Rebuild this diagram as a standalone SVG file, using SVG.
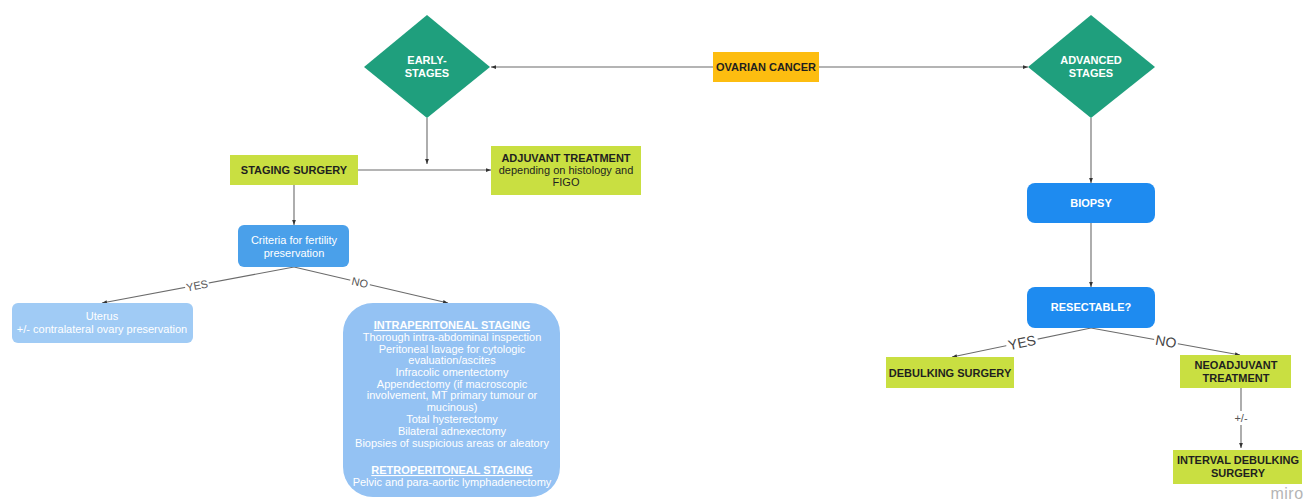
<svg xmlns="http://www.w3.org/2000/svg" width="1306" height="502" viewBox="0 0 1306 502">
<style>
text{font-family:"Liberation Sans",Arial,sans-serif;text-anchor:middle}
.t{font-size:11px;font-weight:bold;fill:#1f1f1f}
.w{font-size:11px;font-weight:bold;fill:#fff}
.r{font-size:11px;fill:#1f1f1f}
.rw{font-size:11px;fill:#fff}
.big{font-size:11px;fill:#fff}
.lbl{font-size:11px;fill:#555}
.lbl2{font-size:14px;fill:#444}
.c{fill:none;stroke:#6b6b6b;stroke-width:1.1}
.lime{fill:#c9df41}
.teal{fill:#1f9f7d}
</style>
<defs>
<marker id="ah" viewBox="0 0 8 6" refX="8" refY="3" markerWidth="5" markerHeight="4" markerUnits="userSpaceOnUse" orient="auto">
<path d="M0,0L8,3L0,6z" fill="#333"/>
</marker>
</defs>
<rect width="1306" height="502" fill="#fff"/>
<g id="connectors">
<path class="c" d="M713,67H491" marker-end="url(#ah)"/>
<path class="c" d="M819,67H1028" marker-end="url(#ah)"/>
<path class="c" d="M427,118V164" marker-end="url(#ah)"/>
<path class="c" d="M358,170H491" marker-end="url(#ah)"/>
<path class="c" d="M294,185V225" marker-end="url(#ah)"/>
<path class="c" d="M294,267L102,303" marker-end="url(#ah)"/>
<path class="c" d="M294,267L448,303" marker-end="url(#ah)"/>
<path class="c" d="M1091,118V183" marker-end="url(#ah)"/>
<path class="c" d="M1091,223V287" marker-end="url(#ah)"/>
<path class="c" d="M1091,328L952,357" marker-end="url(#ah)"/>
<path class="c" d="M1091,328L1240,355" marker-end="url(#ah)"/>
<path class="c" d="M1241,388V448" marker-end="url(#ah)"/>
<g transform="translate(197,285.5) rotate(-10.6)"><rect x="-12" y="-7" width="24" height="13" fill="#fff"/><text class="lbl" y="4">YES</text></g>
<g transform="translate(360,282.5) rotate(13.2)"><rect x="-10" y="-7" width="20" height="13" fill="#fff"/><text class="lbl" y="4">NO</text></g>
<g transform="translate(1022,342.5) rotate(-11.8)"><rect x="-16" y="-8" width="32" height="16" fill="#fff"/><text class="lbl2" y="5">YES</text></g>
<g transform="translate(1166,341.5) rotate(10.3)"><rect x="-12" y="-8" width="24" height="16" fill="#fff"/><text class="lbl2" y="5">NO</text></g>
<rect x="1230" y="411" width="22" height="14" fill="#fff"/><text class="lbl" x="1241" y="422">+/-</text>
</g>
<g id="ovarian-cancer">
<rect x="713" y="52" width="106" height="30" fill="#fdbd10"/>
<text class="t" x="766" y="71">OVARIAN CANCER</text>
</g>
<g id="early-stages">
<path class="teal" d="M427,15L490,67L427,118L364,67z"/>
<text class="w" x="427" y="64">EARLY-</text>
<text class="w" x="427" y="77">STAGES</text>
</g>
<g id="advanced-stages">
<path class="teal" d="M1091,15L1155,67L1091,118L1028,67z"/>
<text class="w" x="1091" y="64">ADVANCED</text>
<text class="w" x="1091" y="77">STAGES</text>
</g>
<g id="staging-surgery">
<rect class="lime" x="230" y="155" width="128" height="30"/>
<text class="t" x="294" y="174">STAGING SURGERY</text>
</g>
<g id="adjuvant-treatment">
<rect class="lime" x="491" y="146" width="150" height="49"/>
<text class="t" x="566" y="162">ADJUVANT TREATMENT</text>
<text class="r" x="566" y="174">depending on histology and</text>
<text class="r" x="566" y="186">FIGO</text>
</g>
<g id="criteria">
<rect x="238" y="225" width="111" height="42" rx="6" fill="#4aa0ea"/>
<text class="rw" x="294" y="244">Criteria for fertility</text>
<text class="rw" x="294" y="257">preservation</text>
</g>
<g id="uterus">
<rect x="12" y="303" width="181" height="40" rx="6" fill="#a0cbf5"/>
<text class="rw" x="102" y="320">Uterus</text>
<text class="rw" x="102" y="333">+/- contralateral ovary preservation</text>
</g>
<g id="staging-details">
<rect x="343" y="303" width="217" height="194" rx="30" fill="#94c2f3"/>
<text class="big" x="452" y="329" font-weight="bold" text-decoration="underline">INTRAPERITONEAL STAGING</text>
<text class="big" x="452" y="341">Thorough intra-abdominal inspection</text>
<text class="big" x="452" y="352.5">Peritoneal lavage for cytologic</text>
<text class="big" x="452" y="364">evaluation/ascites</text>
<text class="big" x="452" y="376">Infracolic omentectomy</text>
<text class="big" x="452" y="387.5">Appendectomy (if macroscopic</text>
<text class="big" x="452" y="399">involvement, MT primary tumour or</text>
<text class="big" x="452" y="411">mucinous)</text>
<text class="big" x="452" y="423">Total hysterectomy</text>
<text class="big" x="452" y="435">Bilateral adnexectomy</text>
<text class="big" x="452" y="447">Biopsies of suspicious areas or aleatory</text>
<text class="big" x="452" y="474" font-weight="bold" text-decoration="underline">RETROPERITONEAL STAGING</text>
<text class="big" x="452" y="486">Pelvic and para-aortic lymphadenectomy</text>
</g>
<g id="biopsy">
<rect x="1027" y="183" width="128" height="40" rx="8" fill="#1e8bf0"/>
<text class="w" x="1091" y="207">BIOPSY</text>
</g>
<g id="resectable">
<rect x="1027" y="287" width="128" height="41" rx="8" fill="#1e8bf0"/>
<text class="w" x="1091" y="311">RESECTABLE?</text>
</g>
<g id="debulking-surgery">
<rect class="lime" x="886" y="357" width="128" height="31"/>
<text class="t" x="950" y="377">DEBULKING SURGERY</text>
</g>
<g id="neoadjuvant-treatment">
<rect class="lime" x="1180" y="355" width="111" height="33"/>
<text class="t" x="1236" y="369">NEOADJUVANT</text>
<text class="t" x="1236" y="382">TREATMENT</text>
</g>
<g id="interval-debulking-surgery">
<rect class="lime" x="1173" y="450" width="129" height="34"/>
<text class="t" x="1238" y="464">INTERVAL DEBULKING</text>
<text class="t" x="1238" y="477">SURGERY</text>
</g>
<text x="1287" y="499" font-size="16" fill="#b4b4b4" letter-spacing="0.5">miro</text>
</svg>
